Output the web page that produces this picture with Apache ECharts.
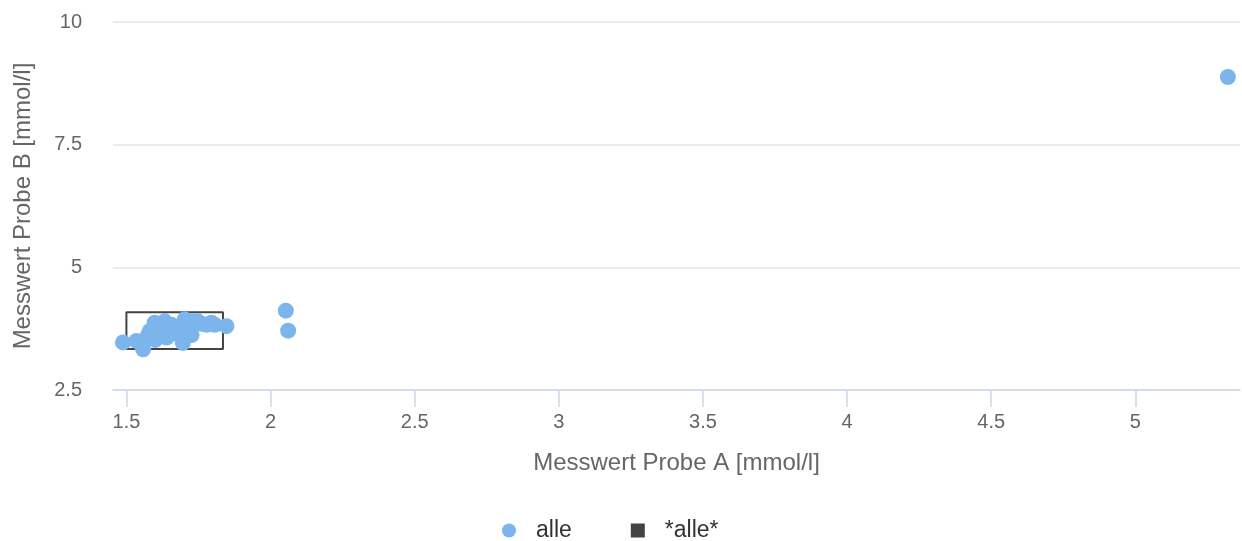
<!DOCTYPE html>
<html>
<head>
<meta charset="utf-8">
<script src="https://cdn.jsdelivr.net/npm/echarts@6/dist/echarts.min.js"></script>
<style>html,body{margin:0;padding:0;background:#fff}#c{width:1242px;height:541px}</style>
</head>
<body>
<div id="c"></div>
<script>
// Data
const seriesNames = ['alle', '*alle*'];
const alleX = [1.488,1.535,1.558,1.575,1.581,1.600,1.598,1.610,1.625,1.639,1.633,1.656,1.665,1.670,1.680,1.696,1.690,1.702,1.700,1.710,1.720,1.726,1.731,1.748,1.760,1.778,1.795,1.806,1.847,2.053,2.061,5.321];
const alleY = [3.47,3.50,3.33,3.62,3.70,3.52,3.87,3.60,3.66,3.57,3.90,3.83,3.78,3.65,3.75,3.46,3.60,3.94,3.80,3.70,3.85,3.62,3.90,3.90,3.85,3.83,3.87,3.83,3.80,4.117,3.709,8.879];
const rectX = [1.5, 1.835, 1.835, 1.5, 1.5];
const rectY = [3.336, 3.336, 4.084, 4.084, 3.336];
const xTicks = [1.5, 2, 2.5, 3, 3.5, 4, 4.5, 5];
const yTicks = [2.5, 5, 7.5, 10];

const font = 'Liberation Sans, Arial, sans-serif';
const chart = echarts.init(document.getElementById('c'), null, {renderer: 'canvas'});
chart.setOption({
  animation: false,
  textStyle: {fontFamily: font},
  grid: {left: 113, right: 2, top: 22, bottom: 151, containLabel: false},
  legend: {
    top: 519, left: 502, padding: 0, itemGap: 59, itemWidth: 14, itemHeight: 14,
    textStyle: {fontSize: 23, color: '#333333', fontFamily: font, padding: [0, 0, 0, 15]},
    data: [{name: seriesNames[0], icon: 'circle'}, {name: seriesNames[1], icon: 'rect'}]
  },
  xAxis: {
    type: 'value', min: 1.4535, max: 5.363,
    name: 'Messwert Probe A [mmol/l]', nameLocation: 'middle', nameGap: 61,
    nameTextStyle: {fontSize: 24, color: '#666666', fontFamily: font},
    axisLine: {show: true, lineStyle: {color: '#ccd6eb', width: 1.5}},
    axisTick: {show: true, length: 17, lineStyle: {color: '#ccd6eb', width: 1.5}, customValues: xTicks},
    axisLabel: {fontSize: 20, color: '#666666', margin: 22, customValues: xTicks, fontFamily: font},
    splitLine: {show: false}
  },
  yAxis: {
    type: 'value', min: 2.5, max: 10, interval: 2.5,
    name: 'Messwert Probe B [mmol/l]', nameLocation: 'middle', nameGap: 78,
    nameTextStyle: {fontSize: 24, color: '#666666', fontFamily: font},
    axisLine: {show: false}, axisTick: {show: false},
    axisLabel: {fontSize: 20, color: '#666666', margin: 31, fontFamily: font, padding: [6, 0, 0, 0],
      formatter: v => yTicks.includes(v) ? String(v) : ''},
    splitLine: {show: true, lineStyle: {color: '#e6e6e6', width: 1.5}}
  },
  series: [
    {
      name: seriesNames[1], type: 'line', z: 2, symbol: 'none', silent: true,
      color: '#434348',
      lineStyle: {color: '#434348', width: 2},
      data: rectX.map((x, i) => [x, rectY[i]])
    },
    {
      name: seriesNames[0], type: 'scatter', z: 3, symbol: 'circle', symbolSize: 16,
      itemStyle: {color: '#7cb5ec', opacity: 1},
      data: alleX.map((x, i) => [x, alleY[i]])
    }
  ]
});
</script>
</body>
</html>
